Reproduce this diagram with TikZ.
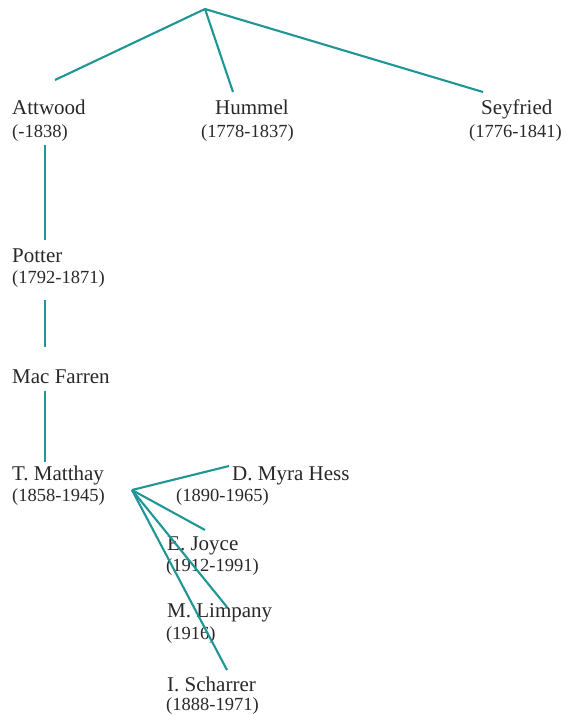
\documentclass[tikz,border=0pt]{standalone}
\usepackage{fontspec}
\setmainfont{Liberation Serif}
\definecolor{linec}{RGB}{30,150,150}
\definecolor{txt}{RGB}{40,40,40}
\begin{document}
\begin{tikzpicture}[x=1pt,y=-1pt,
  pname/.style={anchor=base west,inner sep=0pt,font=\fontsize{21}{24}\selectfont,text=txt},
  pdates/.style={anchor=base west,inner sep=0pt,font=\fontsize{18.5}{22}\selectfont,text=txt},
  link/.style={draw=linec,line width=2.1pt}]
\useasboundingbox (0,0) rectangle (567,715);
% names and dates
\node[pname] (attwood) at (12,114) {Attwood};
\node[pdates] (attwoodd) at (12,137) {(-1838)};
\node[pname] (hummel) at (215,114) {Hummel};
\node[pdates] (hummeld) at (201,137) {(1778-1837)};
\node[pname] (seyfried) at (481,114) {Seyfried};
\node[pdates] (seyfriedd) at (469,137) {(1776-1841)};
\node[pname] (potter) at (12,262) {Potter};
\node[pdates] (potterd) at (12,283) {(1792-1871)};
\node[pname] (macfarren) at (12,383) {Mac Farren};
\node[pname] (matthay) at (12,480) {T. Matthay};
\node[pdates] (matthayd) at (12,501) {(1858-1945)};
\node[pname] (hess) at (232,480) {D. Myra Hess};
\node[pdates] (hessd) at (176,501) {(1890-1965)};
\node[pname] (joyce) at (167,550) {E. Joyce};
\node[pdates] (joyced) at (166,571) {(1912-1991)};
\node[pname] (limpany) at (167,617) {M. Limpany};
\node[pdates] (limpanyd) at (166,639) {(1916)};
\node[pname] (scharrer) at (167,691) {I. Scharrer};
\node[pdates] (scharrerd) at (166,710) {(1888-1971)};
% connector points
\coordinate (apex) at (205,9);
\coordinate (eAtt) at (55,80);
\coordinate (eHum) at (233,92);
\coordinate (eSey) at (483,92);
\coordinate (v1a) at (45,145);
\coordinate (v1b) at (45,240);
\coordinate (v2a) at (45,300);
\coordinate (v2b) at (45,347);
\coordinate (v3a) at (45,391);
\coordinate (v3b) at (45,462);
\coordinate (fan) at (132,490);
\coordinate (eHess) at (229,466);
\coordinate (eJoy) at (205,530);
\coordinate (eLim) at (227,607);
\coordinate (eSch) at (227,670);
% connectors
\draw[link] (apex) -- (eAtt);
\draw[link] (apex) -- (eHum);
\draw[link] (apex) -- (eSey);
\draw[link] (v1a) -- (v1b);
\draw[link] (v2a) -- (v2b);
\draw[link] (v3a) -- (v3b);
\draw[link] (fan) -- (eHess);
\draw[link] (fan) -- (eJoy);
\draw[link] (fan) -- (eLim);
\draw[link] (fan) -- (eSch);
\end{tikzpicture}
\end{document}
